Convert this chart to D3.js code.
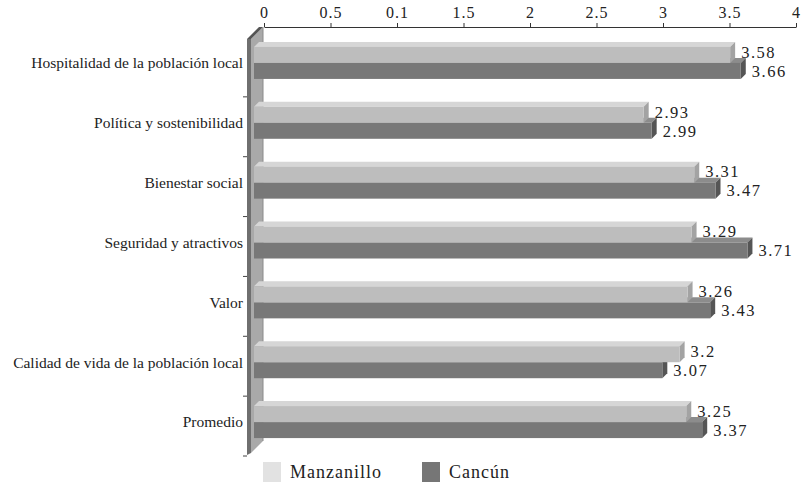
<!DOCTYPE html>
<html>
<head>
<meta charset="utf-8">
<script src="https://cdn.jsdelivr.net/npm/d3@7.9.0/dist/d3.min.js"></script>
<style>
  body { margin: 0; background: #fff; }
  svg text { font-family: 'Liberation Serif', 'Times New Roman', 'DejaVu Serif', serif !important; fill: #222; }
</style>
</head>
<body>
<svg width="804" height="486" font-family="Liberation Serif"></svg>
<script>
// data
const categories = [
  'Hospitalidad de la población local',
  'Política y sostenibilidad',
  'Bienestar social',
  'Seguridad y atractivos',
  'Valor',
  'Calidad de vida de la población local',
  'Promedio'
];
const manzanillo = [3.58, 2.93, 3.31, 3.29, 3.26, 3.2, 3.25];
const cancun = [3.66, 2.99, 3.47, 3.71, 3.43, 3.07, 3.37];
const tickValues = [0, 0.5, 1, 1.5, 2, 2.5, 3, 3.5, 4];
const tickLabels = ['0', '0.5', '0.1', '1.5', '2', '2.5', '3', '3.5', '4']; // sic, as printed

const svg = d3.select('svg');
const depth = 12;   // wall depth
const bd = 5;       // bar depth

// back plane scale (axis) and front plane scale (bars)
const xBack = d3.scaleLinear().domain([0, 4]).range([264, 796]);
const xFront = d3.scaleLinear().domain([0, 4]).range([254, 786]);
const y = d3.scaleBand().domain(categories).range([33, 452]);

// axis on top
const axis = d3.axisTop(xBack).tickValues(tickValues)
  .tickFormat((d, i) => tickLabels[i]).tickSize(4).tickSizeOuter(0);
const gAxis = svg.append('g').attr('transform', 'translate(0,27)').call(axis)
  .attr('font-family', null);
gAxis.select('.domain').attr('stroke', '#333');
gAxis.selectAll('.tick line').attr('stroke', '#333');
gAxis.selectAll('.tick text').attr('font-size', 16).attr('letter-spacing', 1)
  .attr('fill', '#222').attr('dy', '-0.1em');

// left wall
const wallTop = 27, wallBot = 441;
const wx = xBack(0) - 1;
svg.append('polygon')
  .attr('points', [[wx, wallTop], [wx, wallBot], [wx - depth, wallBot + depth], [wx - depth, wallTop + depth]].join(' '))
  .attr('fill', '#a9a9a9');
svg.append('polygon')
  .attr('points', [[wx - depth - 4, wallTop + depth], [wx - depth, wallTop + depth], [wx - depth, wallBot + depth], [wx - depth - 4, wallBot + depth + 2]].join(' '))
  .attr('fill', '#6f6f6f');
svg.append('polygon')
  .attr('points', [[wx - depth - 4, wallTop + depth], [wx - 4, wallTop], [wx, wallTop], [wx - depth, wallTop + depth]].join(' '))
  .attr('fill', '#555');
svg.append('line')
  .attr('x1', wx).attr('x2', wx).attr('y1', wallTop).attr('y2', wallBot)
  .attr('stroke', '#8a8a8a');

// category boundary ticks left of the wall
y.domain().forEach((c) => {
  const yy = y(c) + y.bandwidth() + 4;
  svg.append('line').attr('x1', 243).attr('x2', 247).attr('y1', yy).attr('y2', yy)
    .attr('stroke', '#444');
});

// category labels
svg.append('g').selectAll('text').data(categories).join('text')
  .attr('x', 243).attr('y', d => y(d) + y.bandwidth() / 2)
  .attr('text-anchor', 'end').attr('dy', '0.35em')
  .attr('font-size', 15.5)
  .text(d => d);

function bar3d(g, v, y0, h, cols) {
  const x0 = xFront(0), x1 = xFront(v);
  g.append('polygon')
    .attr('points', [[x0, y0], [x0 + bd, y0 - bd], [x1 + bd, y0 - bd], [x1, y0]].join(' '))
    .attr('fill', cols.top);
  g.append('polygon')
    .attr('points', [[x1, y0], [x1 + bd, y0 - bd], [x1 + bd, y0 + h - bd], [x1, y0 + h]].join(' '))
    .attr('fill', cols.side);
  g.append('rect').attr('x', x0).attr('y', y0).attr('width', x1 - x0).attr('height', h)
    .attr('fill', cols.front);
}

const colM = { front: '#bdbdbd', top: '#d6d6d6', side: '#a3a3a3' };
const colC = { front: '#787878', top: '#8c8c8c', side: '#555555' };
const bh = 16;

const bars = svg.append('g');
categories.forEach((c, i) => {
  const cy = y(c) + y.bandwidth() / 2;
  bar3d(bars, cancun[i], cy, bh, colC);
  bar3d(bars, manzanillo[i], cy - bh, bh, colM);
});

// value labels
svg.append('g').selectAll('text').data(manzanillo).join('text')
  .attr('x', d => xFront(d) + bd + 6)
  .attr('y', (d, i) => y(categories[i]) + y.bandwidth() / 2 - 11)
  .attr('dy', '0.35em').attr('font-size', 16.5).attr('letter-spacing', 1.5)
  .text(d => d);
svg.append('g').selectAll('text').data(cancun).join('text')
  .attr('x', d => xFront(d) + bd + 6)
  .attr('y', (d, i) => y(categories[i]) + y.bandwidth() / 2 + 8)
  .attr('dy', '0.35em').attr('font-size', 16.5).attr('letter-spacing', 1.5)
  .text(d => d);

// legend
const series = ['Manzanillo', 'Cancún'];
const legendCols = ['#e2e2e2', '#767676'];
const legendX = [263, 422];
const lg = svg.append('g');
series.forEach((s, i) => {
  lg.append('rect').attr('x', legendX[i]).attr('y', 462).attr('width', 18).attr('height', 20)
    .attr('fill', legendCols[i]);
  lg.append('text').attr('x', legendX[i] + 27).attr('y', 472).attr('dy', '0.35em')
    .attr('font-size', 18).attr('letter-spacing', 1).text(s);
});
</script>
</body>
</html>
